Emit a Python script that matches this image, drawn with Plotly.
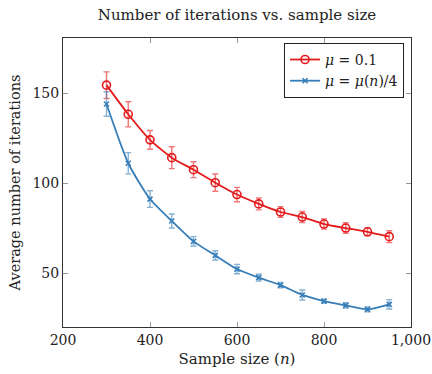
import plotly.graph_objects as go

sample_size = [300, 350, 400, 450, 500, 550, 600, 650, 700, 750, 800, 850, 900, 950]
mu_fixed_mean = [154.4, 138.2, 124.0, 114.1, 107.4, 100.2, 93.6, 88.4, 83.9, 81.1, 77.2, 75.0, 72.9, 70.2]
mu_fixed_err = [7.4, 7.0, 5.2, 6.1, 4.4, 4.8, 4.0, 3.3, 3.0, 3.1, 2.8, 2.9, 2.2, 3.3]
mu_adapt_mean = [143.9, 111.0, 91.1, 78.9, 67.6, 59.8, 52.2, 47.4, 43.3, 37.8, 34.4, 32.0, 29.8, 32.6]
mu_adapt_err = [6.8, 5.9, 4.6, 3.9, 2.6, 2.6, 2.6, 1.9, 1.5, 2.8, 1.1, 1.5, 1.4, 2.6]

x_ticks = [200, 400, 600, 800, 1000]
x_ticktext = ["200", "400", "600", "800", "1,000"]
y_ticks = [50, 100, 150]

RED = "#e41a1c"
BLUE = "#377eb8"
FONT = "DejaVu Serif"
TXT = "#222222"

fig = go.Figure()
fig.add_trace(go.Scatter(
    x=sample_size, y=mu_fixed_mean, mode="lines+markers", name="<i>μ</i> = 0.1",
    line=dict(color=RED, width=1.8, shape="spline", smoothing=0.6),
    marker=dict(symbol="circle-open", size=8, color=RED, line=dict(width=1.6)),
    error_y=dict(type="data", array=mu_fixed_err, color="rgba(228,26,28,0.6)", thickness=1.4, width=3),
))
fig.add_trace(go.Scatter(
    x=sample_size, y=mu_adapt_mean, mode="lines+markers", name="<i>μ</i> = <i>μ</i>(<i>n</i>)/4",
    line=dict(color=BLUE, width=1.8, shape="spline", smoothing=0.6),
    marker=dict(symbol="x-thin", size=5, color=BLUE, line=dict(width=1.6, color=BLUE)),
    error_y=dict(type="data", array=mu_adapt_err, color="rgba(55,126,184,0.6)", thickness=1.4, width=3),
))

axis_common = dict(
    showgrid=False, zeroline=False, showline=True, linecolor="#333333", linewidth=1,
    mirror="ticks", ticks="inside", ticklen=5, tickcolor="#999999", tickwidth=1,
    tickfont=dict(family=FONT, size=14, color=TXT), automargin=False,
)

fig.update_layout(
    width=432, height=374,
    margin=dict(l=63, r=21, t=38, b=47),
    paper_bgcolor="white", plot_bgcolor="white",
    title=dict(text="Number of iterations vs. sample size", x=(63 + 411) / 2 / 432, xanchor="center",
               y=1 - 15 / 374, yanchor="middle", font=dict(family=FONT, size=15, color=TXT)),
    xaxis=dict(range=[200, 1000], tickvals=x_ticks, ticktext=x_ticktext,
               title=dict(text="Sample size (<i>n</i>)", font=dict(family=FONT, size=15, color=TXT), standoff=6),
               **axis_common),
    yaxis=dict(range=[20, 180.6], tickvals=y_ticks,
               title=dict(text="Average number of iterations", font=dict(family=FONT, size=14.5, color=TXT), standoff=8),
               **axis_common),
    legend=dict(x=0.98, y=0.983, xanchor="right", yanchor="top", bgcolor="white",
                bordercolor=TXT, borderwidth=1, font=dict(family=FONT, size=14, color=TXT),
                tracegroupgap=0),
    showlegend=True,
)

fig.write_html("out.html", config={"displayModeBar": False},
               post_script="document.body.style.margin='0';document.body.style.padding='0';")
